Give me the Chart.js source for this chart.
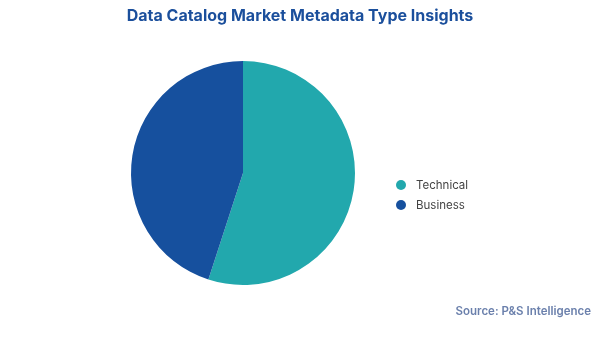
<!DOCTYPE html>
<html>
<head>
<meta charset="utf-8">
<script src="https://cdn.jsdelivr.net/npm/chart.js@4.4.1/dist/chart.umd.min.js"></script>
<style>
  html, body { margin: 0; padding: 0; background: #fff; }
  #wrap { position: relative; width: 600px; height: 337px; font-family: Inter, "Open Sans", sans-serif; }
  #chart { position: absolute; left: 0; top: 0; }
  #title {
    position: absolute; left: 0; top: 5px; width: 600px; text-align: center;
    font-size: 16px; font-weight: 700; color: #1b4f9c; line-height: 20px;
  }
  #source {
    position: absolute; right: 9px; top: 303px;
    font-size: 11.5px; font-weight: 600; color: #6b80ac; line-height: 16px;
  }
  #legend { position: absolute; left: 396px; top: 175px; }
  .item { display: flex; align-items: center; height: 20px; font-size: 11.5px; color: #444; }
  .dot { width: 10px; height: 10px; border-radius: 50%; margin-right: 10px; }
</style>
</head>
<body>
<div id="wrap">
  <canvas id="chart" width="600" height="337"></canvas>
  <div id="title">Data Catalog Market Metadata Type Insights</div>
  <div id="legend"></div>
  <div id="source">Source: P&amp;S Intelligence</div>
</div>
<script>
const categories = ["Technical", "Business"];
const shares = [55, 45];
const colors = ["#22a8ad", "#16509e"];

document.addEventListener("DOMContentLoaded", function () {
  const ctx = document.getElementById("chart").getContext("2d");

  new Chart(ctx, {
    type: "pie",
    data: {
      labels: categories,
      datasets: [
        {
          data: shares,
          backgroundColor: colors,
          borderWidth: 0,
        },
      ],
    },
    options: {
      responsive: false,
      animation: false,
      layout: {
        padding: { left: 131, right: 245, top: 61, bottom: 52 },
      },
      plugins: {
        legend: { display: false },
        tooltip: { enabled: false },
      },
    },
  });

  // Legend built from the same arrays
  const legend = document.getElementById("legend");
  categories.forEach((name, i) => {
    const row = document.createElement("div");
    row.className = "item";
    const dot = document.createElement("span");
    dot.className = "dot";
    dot.style.background = colors[i];
    row.appendChild(dot);
    row.appendChild(document.createTextNode(name));
    legend.appendChild(row);
  });
});
</script>
</body>
</html>
